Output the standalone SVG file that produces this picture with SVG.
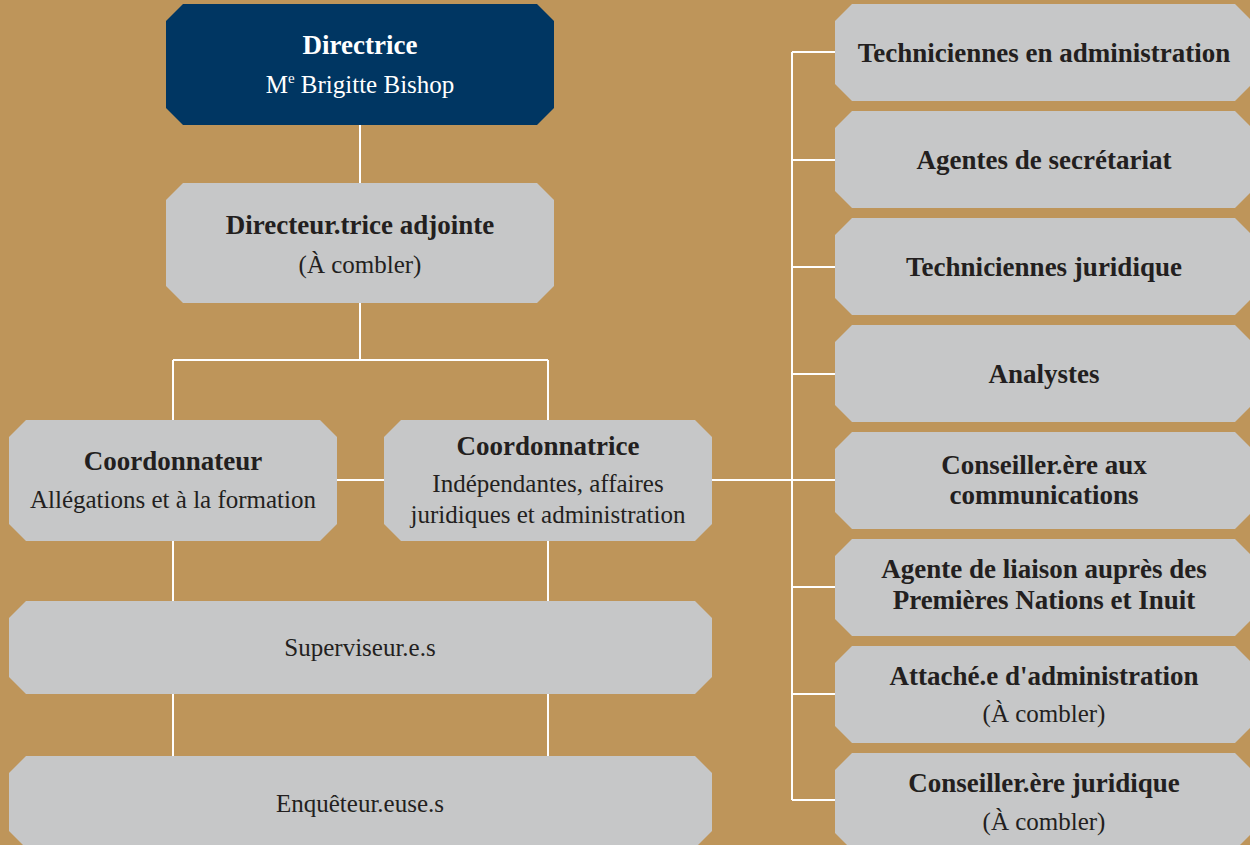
<svg xmlns="http://www.w3.org/2000/svg" width="1250" height="845" viewBox="0 0 1250 845">
<style>
.bg{fill:#BE955A}
.box{fill:#C6C7C8}
.dark{fill:#003662}
.b{font-family:"Liberation Serif","Times New Roman",serif;font-weight:bold;font-size:27px;fill:#231F20;text-anchor:middle}
.r{font-family:"Liberation Serif","Times New Roman",serif;font-size:25px;fill:#231F20;text-anchor:middle}
.w{fill:#FFFFFF}
.conn{stroke:#FFFFFF;stroke-width:2;fill:none}
</style>
<rect class="bg" x="0" y="0" width="1250" height="845"/>
<g id="connectors" class="conn">
<path d="M360,125V183M360,303V360M173,360H548M173,360V420M548,360V420"/>
<path d="M173,541V601M548,541V601M173,694V756M548,694V756"/>
<path d="M337,480H384M712,480H792"/>
<path d="M792,52V800M792,52H835M792,160H835M792,267H835M792,374H835M792,480H835M792,587H835M792,694H835M792,800H835"/>
</g>
<g id="directrice">
<polygon class="dark" points="183,4 537,4 554,21 554,108 537,125 183,125 166,108 166,21"/>
<text class="b w" x="360" y="54">Directrice</text>
<text class="r w" x="360" y="93">M<tspan font-size="15" dy="-10">e</tspan><tspan dy="10"> Brigitte Bishop</tspan></text>
</g>
<g id="adjointe">
<polygon class="box" points="183,183 537,183 554,200 554,286 537,303 183,303 166,286 166,200"/>
<text class="b" x="360" y="234">Directeur.trice adjointe</text>
<text class="r" x="360" y="273">(À combler)</text>
</g>
<g id="coordonnateur">
<polygon class="box" points="26,420 320,420 337,437 337,524 320,541 26,541 9,524 9,437"/>
<text class="b" x="173" y="470">Coordonnateur</text>
<text class="r" x="173" y="508">Allégations et à la formation</text>
</g>
<g id="coordonnatrice">
<polygon class="box" points="401,420 695,420 712,437 712,524 695,541 401,541 384,524 384,437"/>
<text class="b" x="548" y="455">Coordonnatrice</text>
<text class="r" x="548" y="492">Indépendantes, affaires</text>
<text class="r" x="548" y="523">juridiques et administration</text>
</g>
<g id="superviseurs">
<polygon class="box" points="26,601 695,601 712,618 712,677 695,694 26,694 9,677 9,618"/>
<text class="r" x="360" y="656">Superviseur.e.s</text>
</g>
<g id="enqueteurs">
<polygon class="box" points="26,756 695,756 712,773 712,831 695,848 26,848 9,831 9,773"/>
<text class="r" x="360" y="812">Enquêteur.euse.s</text>
</g>
<g id="tech-admin">
<polygon class="box" points="852,4 1235,4 1252,21 1252,84 1235,101 852,101 835,84 835,21"/>
<text class="b" x="1044" y="62">Techniciennes en administration</text>
</g>
<g id="agentes-secretariat">
<polygon class="box" points="852,111 1235,111 1252,128 1252,191 1235,208 852,208 835,191 835,128"/>
<text class="b" x="1044" y="169">Agentes de secrétariat</text>
</g>
<g id="tech-juridique">
<polygon class="box" points="852,218 1235,218 1252,235 1252,298 1235,315 852,315 835,298 835,235"/>
<text class="b" x="1044" y="276">Techniciennes juridique</text>
</g>
<g id="analystes">
<polygon class="box" points="852,325 1235,325 1252,342 1252,405 1235,422 852,422 835,405 835,342"/>
<text class="b" x="1044" y="383">Analystes</text>
</g>
<g id="conseiller-comm">
<polygon class="box" points="852,432 1235,432 1252,449 1252,512 1235,529 852,529 835,512 835,449"/>
<text class="b" x="1044" y="474">Conseiller.ère aux</text>
<text class="b" x="1044" y="504">communications</text>
</g>
<g id="agente-liaison">
<polygon class="box" points="852,539 1235,539 1252,556 1252,619 1235,636 852,636 835,619 835,556"/>
<text class="b" x="1044" y="578">Agente de liaison auprès des</text>
<text class="b" x="1044" y="609">Premières Nations et Inuit</text>
</g>
<g id="attache-admin">
<polygon class="box" points="852,646 1235,646 1252,663 1252,726 1235,743 852,743 835,726 835,663"/>
<text class="b" x="1044" y="685">Attaché.e d'administration</text>
<text class="r" x="1044" y="722">(À combler)</text>
</g>
<g id="conseiller-juridique">
<polygon class="box" points="852,753 1235,753 1252,770 1252,833 1235,850 852,850 835,833 835,770"/>
<text class="b" x="1044" y="792">Conseiller.ère juridique</text>
<text class="r" x="1044" y="830">(À combler)</text>
</g>
</svg>
